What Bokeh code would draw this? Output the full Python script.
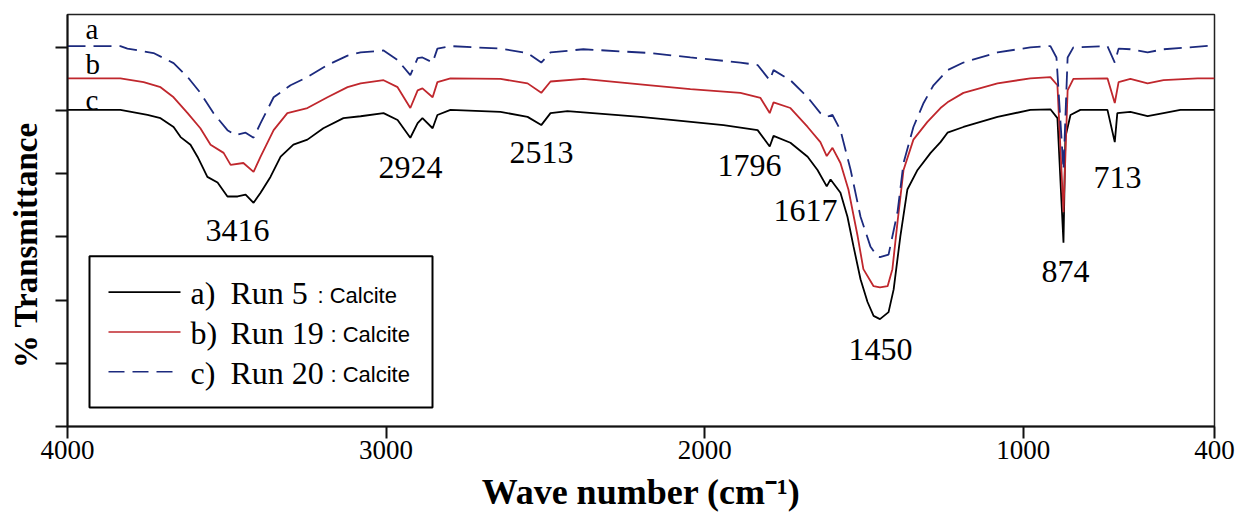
import math

from bokeh.plotting import figure
from bokeh.models import Range1d, FixedTicker, Label, BoxAnnotation
from bokeh.embed import file_html
from bokeh.resources import INLINE

# ---------------------------------------------------------------------------
# FTIR spectra (wave number in cm^-1, transmittance in arbitrary offset units)
# ---------------------------------------------------------------------------
run5_wn = [4000, 3834, 3749, 3708, 3667, 3645, 3614, 3592, 3561, 3529,
           3498, 3466, 3441, 3416, 3394, 3363, 3331, 3291, 3247, 3197,
           3134, 3080, 3008, 2964, 2924, 2901, 2886, 2854, 2839, 2798,
           2641, 2556, 2513, 2484, 2431, 2202, 2098, 1941, 1834, 1796,
           1784, 1731, 1677, 1646, 1617, 1605, 1574, 1552, 1533, 1511,
           1489, 1470, 1450, 1423, 1407, 1386, 1364, 1332, 1291, 1260,
           1238, 1188, 1081, 978, 915, 893, 874, 868, 852, 821,
           736, 713, 705, 664, 610, 560, 507, 400]
run5_t = [50.1, 50.1, 49.3, 48.8, 47.4, 45.8, 44.6, 42.7, 39.5, 38.6,
          36.4, 36.4, 36.7, 35.4, 37.0, 39.5, 42.7, 44.6, 45.4, 47.2,
          48.8, 49.1, 49.6, 48.5, 45.7, 48.0, 48.8, 47.2, 49.3, 50.1,
          49.8, 49.0, 47.7, 49.6, 49.9, 49.0, 48.5, 47.7, 46.9, 44.3,
          46.0, 44.9, 42.7, 40.6, 38.0, 39.1, 37.0, 33.2, 28.5, 23.3,
          19.7, 17.5, 17.0, 18.1, 21.7, 30.1, 37.5, 40.6, 43.3, 45.0,
          46.5, 47.4, 49.0, 50.1, 50.2, 48.8, 29.1, 45.8, 49.3, 50.1,
          50.1, 45.0, 49.6, 49.8, 49.1, 49.6, 50.1, 50.1]

run19_wn = [4000, 3834, 3761, 3708, 3667, 3623, 3583, 3551, 3510, 3488,
            3448, 3416, 3394, 3353, 3310, 3247, 3184, 3121, 3080, 3008,
            2964, 2924, 2901, 2886, 2854, 2839, 2798, 2641, 2556, 2513,
            2484, 2381, 2170, 2045, 1888, 1825, 1796, 1784, 1731, 1677,
            1637, 1617, 1599, 1574, 1549, 1520, 1502, 1470, 1450, 1426,
            1411, 1395, 1376, 1345, 1301, 1260, 1238, 1188, 1081, 978,
            915, 893, 874, 861, 843, 736, 713, 701, 664, 610,
            560, 453, 400]
run19_t = [55.1, 55.1, 54.5, 53.7, 52.1, 49.6, 47.2, 44.6, 43.3, 41.4,
           41.7, 40.3, 42.7, 46.9, 49.6, 50.4, 52.1, 53.7, 54.3, 54.8,
           53.7, 50.4, 53.2, 53.5, 52.1, 54.5, 55.1, 55.0, 54.3, 52.8,
           54.6, 55.0, 54.0, 53.4, 52.8, 52.0, 49.6, 51.3, 50.4, 47.4,
           45.0, 42.8, 44.1, 41.7, 37.5, 30.1, 24.9, 22.2, 22.0, 22.2,
           24.9, 32.3, 40.6, 45.4, 48.2, 50.4, 51.3, 52.8, 54.3, 55.1,
           55.3, 54.0, 33.9, 53.2, 55.0, 55.1, 51.2, 54.5, 55.0, 54.3,
           54.8, 55.1, 55.1]

run20_wn = [4000, 3834, 3812, 3730, 3667, 3623, 3583, 3542, 3498, 3473,
            3441, 3416, 3394, 3353, 3300, 3247, 3184, 3121, 3080, 3008,
            2964, 2924, 2901, 2886, 2854, 2839, 2798, 2641, 2556, 2513,
            2484, 2381, 2170, 2045, 1888, 1834, 1796, 1784, 1731, 1677,
            1637, 1617, 1599, 1574, 1542, 1511, 1480, 1458, 1450, 1423,
            1395, 1376, 1345, 1313, 1282, 1238, 1188, 1081, 978, 915,
            896, 874, 861, 843, 736, 713, 701, 664, 610, 560,
            400]
run20_t = [60.2, 60.2, 59.8, 59.1, 57.5, 55.3, 52.8, 49.6, 46.9, 46.1,
           46.5, 45.7, 48.0, 52.1, 54.0, 55.3, 57.2, 58.7, 59.2, 59.5,
           58.0, 55.6, 58.3, 58.4, 57.6, 59.8, 60.2, 59.8, 59.1, 57.6,
           59.2, 59.7, 59.1, 58.4, 57.6, 57.2, 54.8, 56.4, 54.8, 52.1,
           49.6, 49.0, 49.3, 46.9, 40.6, 33.2, 28.5, 26.9, 26.8, 27.2,
           33.9, 41.7, 47.4, 51.2, 54.0, 56.4, 57.6, 59.2, 60.0, 60.2,
           58.4, 40.6, 58.4, 60.0, 60.2, 57.6, 59.8, 59.7, 59.2, 59.7,
           60.3]

# assigned band positions (cm^-1)
peaks = [3416, 2924, 2513, 1796, 1617, 1450, 874, 713]

x_ticks = [4000, 3000, 2000, 1000, 400]
y_ticks = [0, 10, 20, 30, 40, 50, 60]

legend_keys = ["a)", "b)", "c)"]
legend_runs = ["Run 5", "Run 19", "Run 20"]
legend_phase = ": Calcite"
curve_letters = ["a", "b", "c"]

# ---------------------------------------------------------------------------
# Layout
# ---------------------------------------------------------------------------
W, H = 1239, 514
FL, FR, FT, FB = 67, 1214, 14, 428          # frame edges in canvas pixels
X0, X1 = 4000, 400
Y0, Y1 = 0.0, 65.2

BLACK = "#000000"
RED = "#c0272d"
BLUE = "#1c2a7e"
SERIF = "Liberation Serif"
SANS = "Liberation Sans"
NBSP = "\u00a0"


def px_x(px):
    return X0 + (px - FL) * (X1 - X0) / (FR - FL)


def px_y(py):
    return Y0 + (FB - py) * (Y1 - Y0) / (FB - FT)


p = figure(width=W, height=H, output_backend="svg", toolbar_location=None,
           x_range=Range1d(X0, X1), y_range=Range1d(Y0, Y1),
           min_border_left=FL, min_border_right=W - FR,
           min_border_top=FT, min_border_bottom=H - FB)
p.background_fill_color = "white"
p.border_fill_color = "white"
p.outline_line_color = "#222222"
p.outline_line_width = 1.5
p.xgrid.visible = False
p.ygrid.visible = False

for ax in (p.xaxis[0], p.yaxis[0]):
    ax.axis_line_color = "#111111"
    ax.axis_line_width = 2
    ax.major_tick_line_color = "#111111"
    ax.major_tick_line_width = 2
    ax.major_tick_out = 12
    ax.major_tick_in = 0
    ax.minor_tick_out = 0
    ax.minor_tick_in = 0
    ax.axis_label_text_font = SERIF
    ax.axis_label_text_font_style = "bold"
    ax.axis_label_text_color = BLACK

p.xaxis.ticker = FixedTicker(ticks=x_ticks)
p.xaxis.major_label_text_font = SERIF
p.xaxis.major_label_text_font_size = "27px"
p.xaxis.major_label_text_color = BLACK
p.xaxis.major_label_standoff = 2
p.xaxis.axis_label = "Wave number (cm\u207b\u00b9)"
p.xaxis.axis_label_text_font_size = "36px"
p.xaxis.axis_label_standoff = 10

p.yaxis.ticker = FixedTicker(ticks=y_ticks)
p.yaxis.major_label_overrides = {t: "" for t in y_ticks}
p.yaxis.major_label_standoff = 0
# trailing no-break spaces nudge the title towards the lower part of the axis
p.yaxis.axis_label = "% Transmittance" + NBSP * 6
p.yaxis.axis_label_text_font_size = "33px"
p.yaxis.axis_label_standoff = 12

# spectra
p.line(run5_wn, run5_t, line_color=BLACK, line_width=1.8)
p.line(run19_wn, run19_t, line_color=RED, line_width=1.8)
p.line(run20_wn, run20_t, line_color=BLUE, line_width=1.8, line_dash="18 8")

# curve letters at the left edge
for letter, cy in zip(curve_letters, [29, 64, 100]):
    p.add_layout(Label(x=px_x(85), y=px_y(cy), text=letter,
                       text_font=SERIF, text_font_size="29px",
                       text_color=BLACK, text_align="left",
                       text_baseline="middle"))

# band annotations (centre of each number, canvas pixels)
label_pos = [(237, 231), (410, 168), (541, 153), (749, 166),
             (805, 211), (880, 351), (1065, 272), (1117, 178)]
for wn, (cx, cy) in zip(peaks, label_pos):
    p.add_layout(Label(x=px_x(cx), y=px_y(cy), text=str(wn),
                       text_font=SERIF, text_font_size="32px",
                       text_color=BLACK, text_align="center",
                       text_baseline="middle"))

# legend box
p.add_layout(BoxAnnotation(left=px_x(89), right=px_x(432),
                           top=px_y(257), bottom=px_y(409),
                           fill_color=None, line_color=BLACK,
                           line_alpha=1.0, line_width=2))
row_y = [293, 333, 373]
phase_x = [317, 330, 330]
colors = [BLACK, RED, BLUE]
dashes = ["solid", "solid", "16 8"]
for i in range(3):
    yl = px_y(row_y[i])
    p.segment(x0=[px_x(108)], y0=[yl], x1=[px_x(180)], y1=[yl],
              line_color=colors[i], line_width=1.6, line_dash=dashes[i])
    p.add_layout(Label(x=px_x(190), y=px_y(row_y[i] + 1), text=legend_keys[i],
                       text_font=SERIF, text_font_size="32px",
                       text_color=BLACK, text_baseline="middle"))
    p.add_layout(Label(x=px_x(230), y=px_y(row_y[i] + 1), text=legend_runs[i],
                       text_font=SERIF, text_font_size="32px",
                       text_color=BLACK, text_baseline="middle"))
    p.add_layout(Label(x=px_x(phase_x[i]), y=px_y(row_y[i] + 3),
                       text=legend_phase,
                       text_font=SANS, text_font_size="22px",
                       text_color=BLACK, text_baseline="middle"))

open("out.html", "w").write(file_html(p, INLINE))
